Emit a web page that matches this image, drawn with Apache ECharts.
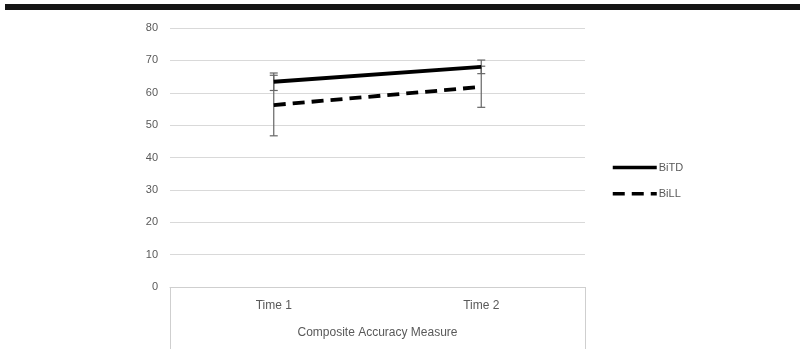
<!DOCTYPE html>
<html>
<head>
<meta charset="utf-8">
<script src="https://cdn.jsdelivr.net/npm/echarts@6/dist/echarts.min.js"></script>
<style>
  html, body { margin: 0; padding: 0; background: #fff; }
  #chart { width: 800px; height: 349px; }
</style>
</head>
<body>
<div id="chart"></div>
<script>
// data
const categories = ['Time 1', 'Time 2'];
const bitdMean = [63.4, 68.0];
const bitdLow = [60.7, 65.9];
const bitdHigh = [66.1, 70.1];
const billMean = [56.2, 61.8];
const billLow = [46.7, 55.5];
const billHigh = [65.4, 68.2];
const yTicks = { min: 0, max: 80, interval: 10 };

const textColor = '#595959';
const font = 'Liberation Sans';

function errData(low, high) {
  return categories.map((c, i) => [i, low[i], high[i]]);
}

function errorBar(params, api) {
  const x = api.value(0);
  const lo = api.coord([x, api.value(1)]);
  const hi = api.coord([x, api.value(2)]);
  const cap = 4;
  const style = { stroke: '#666', lineWidth: 1.2 };
  return {
    type: 'group',
    children: [
      { type: 'line', shape: { x1: lo[0], y1: lo[1], x2: hi[0], y2: hi[1] }, style },
      { type: 'line', shape: { x1: lo[0] - cap, y1: lo[1], x2: lo[0] + cap, y2: lo[1] }, style },
      { type: 'line', shape: { x1: hi[0] - cap, y1: hi[1], x2: hi[0] + cap, y2: hi[1] }, style }
    ]
  };
}

const chart = echarts.init(document.getElementById('chart'));

const option = {
  animation: false,
  textStyle: { fontFamily: font },
  grid: { left: 170, right: 215, top: 28, bottom: 62 },
  graphic: [
    { type: 'rect', shape: { x: 5, y: 4, width: 800, height: 6 }, style: { fill: '#151515' } },
    { type: 'line', shape: { x1: 170.5, y1: 287, x2: 170.5, y2: 349 }, style: { stroke: '#cfcfcf', lineWidth: 1 } },
    { type: 'line', shape: { x1: 585.5, y1: 287, x2: 585.5, y2: 349 }, style: { stroke: '#cfcfcf', lineWidth: 1 } }
  ],
  legend: {
    orient: 'vertical',
    left: 606,
    top: 157,
    itemWidth: 44,
    itemHeight: 14,
    itemGap: 15,
    itemStyle: { opacity: 0 },
    lineStyle: { width: 3.5 },
    textStyle: { color: textColor, fontSize: 11, fontFamily: font, padding: [0, 0, 0, -3] },
    data: ['BiTD', 'BiLL']
  },
  xAxis: {
    type: 'category',
    data: categories,
    axisLine: { lineStyle: { color: '#cfcfcf' } },
    axisTick: { show: false },
    axisLabel: { color: textColor, fontSize: 12, margin: 13 },
    name: 'Composite Accuracy Measure',
    nameLocation: 'middle',
    nameGap: 40,
    nameTextStyle: { color: textColor, fontSize: 12 }
  },
  yAxis: {
    type: 'value',
    min: yTicks.min,
    max: yTicks.max,
    interval: yTicks.interval,
    axisLine: { show: false },
    axisTick: { show: false },
    axisLabel: { color: textColor, fontSize: 11, margin: 12 },
    splitLine: { lineStyle: { color: '#d9d9d9' } }
  },
  series: [
    {
      name: 'BiTD',
      type: 'line',
      data: bitdMean,
      symbol: 'none',
      lineStyle: { color: '#000', width: 3.8 },
      itemStyle: { color: '#000' },
      z: 3
    },
    {
      name: 'BiLL',
      type: 'line',
      data: billMean,
      symbol: 'none',
      lineStyle: { color: '#000', width: 3.8, type: [12, 7] },
      itemStyle: { color: '#000' },
      z: 3
    },
    {
      type: 'custom',
      renderItem: errorBar,
      data: errData(bitdLow, bitdHigh),
      z: 2
    },
    {
      type: 'custom',
      renderItem: errorBar,
      data: errData(billLow, billHigh),
      z: 2
    }
  ]
};

chart.setOption(option);
</script>
</body>
</html>
